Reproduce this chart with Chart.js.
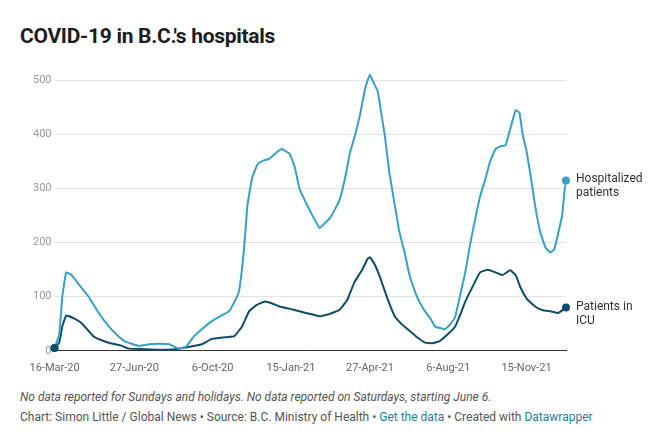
<!DOCTYPE html>
<html>
<head>
<meta charset="utf-8">
<script src="https://cdn.jsdelivr.net/npm/chart.js@4"></script>
<style>
body { margin: 0; background: #fff; font-family: Roboto, sans-serif; }
h1 { position: absolute; left: 20px; top: 24px; margin: 0; font-size: 21px; font-weight: 700; color: #1d1d1d; letter-spacing: -0.3px; }
#wrap { position: absolute; left: 0; top: 60px; width: 661px; height: 318px; }
.notes { position: absolute; left: 20px; top: 390px; font-size: 12px; color: #555; font-style: italic; }
.credit { position: absolute; left: 20px; top: 410px; font-size: 12px; color: #555; }
.credit a { color: #1d81a2; text-decoration: none; }
</style>
</head>
<body>
<h1>COVID-19 in B.C.'s hospitals</h1>
<div id="wrap"><canvas id="chart"></canvas></div>
<div class="notes">No data reported for Sundays and holidays. No data reported on Saturdays, starting June 6.</div>
<div class="credit">Chart: Simon Little / Global News • Source: B.C. Ministry of Health • <a>Get the data</a> • Created with <a>Datawrapper</a></div>
<script>
// days since 16-Mar-20
const hospDays = [0, 6, 10, 15, 22, 30, 44, 57, 70, 80, 90, 109, 122, 135, 148, 160, 170, 180, 190, 203, 215, 225, 232, 238, 244, 249, 255, 262, 270, 277, 285, 293, 303, 310, 316, 324, 331, 342, 348, 355, 362, 368, 375, 381, 388, 394, 400, 404, 407, 412, 417, 421, 426, 432, 439, 445, 452, 458, 465, 471, 478, 485, 491, 498, 504, 510, 517, 523, 530, 536, 543, 549, 556, 562, 569, 575, 582, 588, 595, 600, 604, 609, 614, 620, 627, 634, 640, 645, 650, 655, 658, 660];
const hospVals = [5, 30, 100, 145, 140, 125, 100, 70, 45, 30, 18, 9, 12, 13, 12, 4, 8, 27, 40, 55, 65, 73, 90, 110, 180, 270, 320, 345, 352, 355, 365, 373, 365, 340, 300, 275, 255, 227, 235, 245, 262, 280, 320, 365, 400, 435, 480, 500, 510, 495, 480, 445, 400, 330, 270, 220, 180, 140, 110, 90, 73, 60, 45, 42, 40, 48, 63, 100, 145, 195, 245, 285, 318, 350, 373, 378, 380, 410, 445, 440, 400, 370, 327, 270, 218, 190, 182, 188, 218, 250, 295, 315];
const icuDays = [0, 6, 10, 15, 25, 35, 50, 60, 70, 85, 96, 115, 135, 155, 173, 190, 203, 220, 232, 242, 251, 261, 271, 280, 290, 303, 316, 330, 342, 355, 368, 378, 387, 397, 404, 407, 413, 420, 430, 439, 449, 459, 468, 478, 488, 497, 507, 517, 523, 530, 540, 549, 559, 569, 578, 588, 595, 601, 610, 620, 630, 640, 650, 660];
const icuVals = [5, 15, 45, 65, 60, 51, 27, 20, 15, 10, 4, 3, 2, 3, 7, 12, 22, 25, 27, 45, 73, 85, 91, 88, 82, 78, 73, 68, 64, 68, 76, 95, 127, 150, 170, 173, 160, 136, 95, 64, 48, 36, 25, 15, 14, 18, 30, 45, 65, 91, 120, 145, 150, 145, 140, 149, 140, 118, 95, 82, 75, 73, 70, 80];
const yTicks = [0, 100, 200, 300, 400, 500];
const xTickDays = [0, 103, 204, 305, 407, 508, 609];
const xTickLabels = ['16-Mar-20', '27-Jun-20', '6-Oct-20', '15-Jan-21', '27-Apr-21', '6-Aug-21', '15-Nov-21'];

const hospColor = '#36a0c9';
const icuColor = '#0d4d6b';

function pts(d, v) { return d.map((x, i) => ({ x: x, y: v[i] })); }

const endLabels = {
    id: 'endLabels',
    afterDatasetsDraw(chart) {
        const ctx = chart.ctx;
        const labels = [['Hospitalized', 'patients'], ['Patients in', 'ICU']];
        chart.data.datasets.forEach((ds, i) => {
            const meta = chart.getDatasetMeta(i);
            const p = meta.data[meta.data.length - 1];
            const p0 = meta.data[0];
            ctx.save();
            ctx.fillStyle = ds.borderColor;
            ctx.beginPath();
            ctx.arc(p.x, p.y, 4, 0, Math.PI * 2);
            ctx.arc(p0.x, p0.y, 4, 0, Math.PI * 2);
            ctx.fill();
            ctx.fillStyle = '#333';
            ctx.font = '12px Roboto';
            ctx.textBaseline = 'middle';
            ctx.fillText(labels[i][0], p.x + 10, p.y - 1);
            ctx.fillText(labels[i][1], p.x + 10, p.y + 13);
            ctx.restore();
        });
    }
};

new Chart(document.getElementById('chart'), {
    type: 'line',
    data: {
        datasets: [
            { data: pts(hospDays, hospVals), borderColor: hospColor, borderWidth: 2, pointRadius: 0, tension: 0.1 },
            { data: pts(icuDays, icuVals), borderColor: icuColor, borderWidth: 2, pointRadius: 0, tension: 0.1 }
        ]
    },
    options: {
        responsive: true,
        maintainAspectRatio: false,
        animation: false,
        layout: { padding: { left: 30, right: 95, top: 3, bottom: 0 } },
        plugins: { legend: { display: false }, tooltip: { enabled: false } },
        scales: {
            x: {
                type: 'linear', min: 0, max: 660,
                afterBuildTicks: s => { s.ticks = xTickDays.map(v => ({ value: v })); },
                ticks: {
                    callback: (v) => xTickLabels[xTickDays.indexOf(v)],
                    color: '#666', font: { size: 11, family: 'Roboto' }, maxRotation: 0, autoSkip: false
                },
                grid: { display: false },
                border: { color: '#333' }
            },
            y: {
                min: 0, max: 520,
                afterBuildTicks: s => { s.ticks = yTicks.map(v => ({ value: v })); },
                ticks: { color: '#999', font: { size: 11, family: 'Roboto' } },
                grid: { color: '#e4e4e4', drawTicks: false },
                border: { display: false }
            }
        }
    },
    plugins: [endLabels]
});
</script>
</body>
</html>
